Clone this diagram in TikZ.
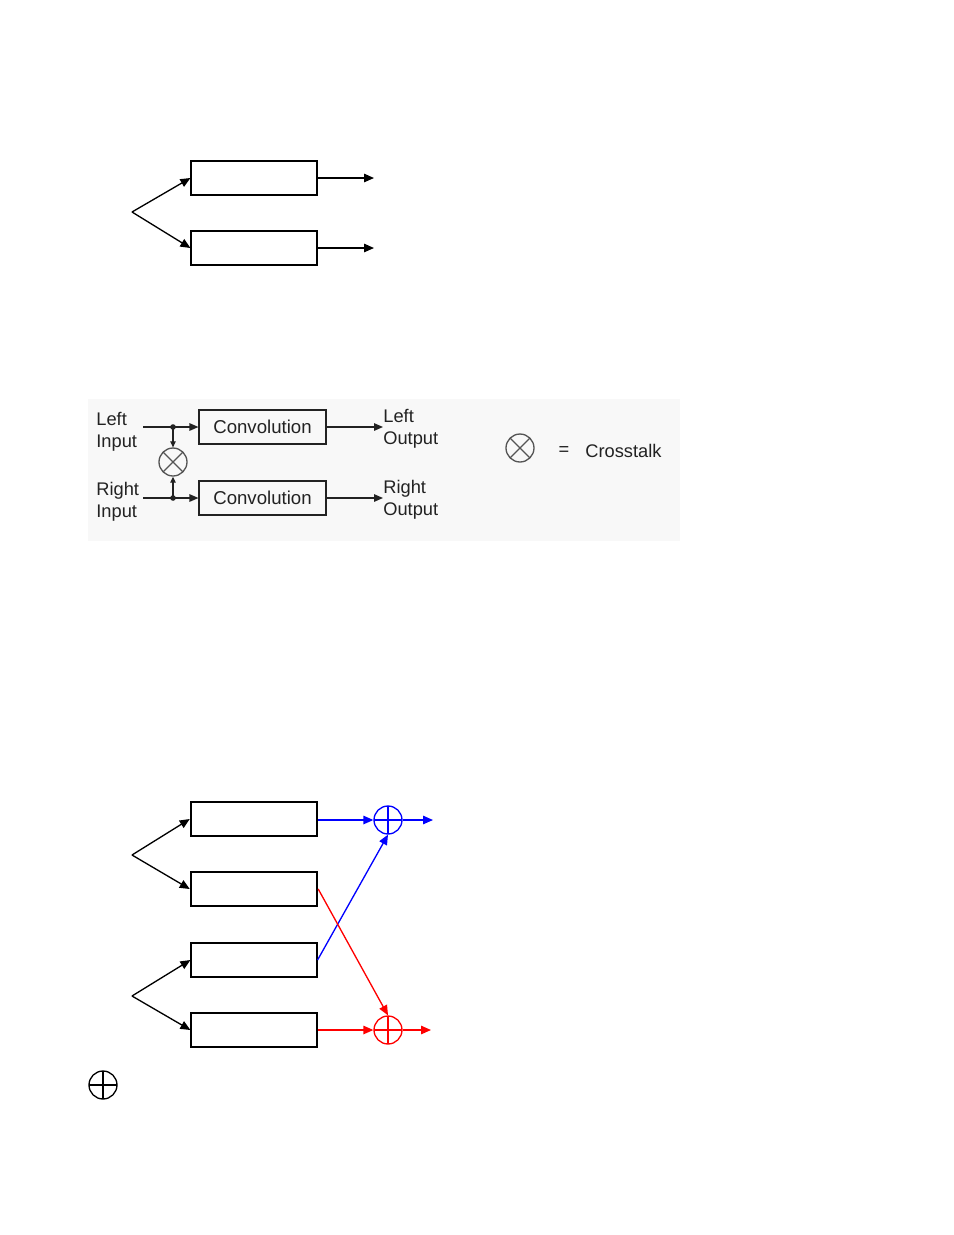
\documentclass[tikz,border=0pt]{standalone}
\usepackage{fontspec}
\setmainfont{Liberation Sans}
\usetikzlibrary{arrows.meta}
\definecolor{XBack}{HTML}{F8F8F8}
\definecolor{XLine}{HTML}{222222}
\definecolor{XGray}{HTML}{555555}
\definecolor{XBlue}{HTML}{0000FF}
\definecolor{XRed}{HTML}{FF0000}
\tikzset{
  blk/.style={draw,rectangle,inner sep=0pt,minimum width=2.52cm,minimum height=0.68cm,line width=.65pt},
  blkthick/.style={blk,line width=1.4pt},
  conv/.style={blk,minimum width=2.54cm,draw=XLine,font=\fontsize{10.6}{12}\selectfont,text=XLine},
  lbl/.style={inner sep=0pt,align=left,font=\fontsize{10.4}{12.4}\selectfont,text=XLine},
  adder/.style={circle,draw,inner sep=0pt,minimum size=0.56cm,line width=.75pt,
    path picture={\draw[line width=.75pt] (path picture bounding box.north) -- (path picture bounding box.south)
      (path picture bounding box.west) -- (path picture bounding box.east);}},
  xtalk/.style={circle,draw=XGray,inner sep=0pt,minimum size=0.56cm,line width=.75pt,
    path picture={\draw[XGray,line width=.75pt]
      ([shift={(45:0.28cm)}]path picture bounding box.center) -- ([shift={(225:0.28cm)}]path picture bounding box.center)
      ([shift={(135:0.28cm)}]path picture bounding box.center) -- ([shift={(315:0.28cm)}]path picture bounding box.center);}},
  sig/.style={line width=.75pt,-{Triangle[length=2mm,width=1.7mm]}},
  tap/.style={line width=.7pt,-{Triangle[length=1.2mm,width=1.1mm]}}
}
\begin{document}
\begin{tikzpicture}[x=0.02cm,y=-0.02cm]
\path[use as bounding box] (0,0) rectangle (954,1235);
% upper sketch
\node[blk] (ta) at (254,178) {};
\node[blk] (tb) at (254,248) {};
\coordinate (tsplit) at (132,212);
\coordinate (taout) at (374,178);
\coordinate (tbout) at (374,248);
\draw[sig] (tsplit) -- (ta.west);
\draw[sig] (tsplit) -- (tb.west);
\draw[sig] (ta.east) -- (taout);
\draw[sig] (tb.east) -- (tbout);
% crosstalk panel
\fill[XBack] (88,399) rectangle (680,541);
\node[conv] (convl) at (262.5,427) {Convolution};
\node[conv] (convr) at (262.5,498) {Convolution};
\node[lbl,anchor=west] (inl) at (96,431.5) {Left\\Input};
\node[lbl,anchor=west] (inr) at (96,502) {Right\\Input};
\node[lbl,anchor=west] (outl) at (383,429) {Left\\Output};
\node[lbl,anchor=west] (outr) at (383,500) {Right\\Output};
\coordinate (inlx) at (143,427);
\coordinate (inrx) at (143,498);
\coordinate (tapl) at (173,427);
\coordinate (tapr) at (173,498);
\coordinate (outlx) at (383,427);
\coordinate (outrx) at (383,498);
\node[xtalk] (mix) at (173,462) {};
\draw[sig,draw=XLine,-{Triangle[length=1.8mm,width=1.5mm]}] (inlx) -- (convl.west);
\draw[sig,draw=XLine,-{Triangle[length=1.8mm,width=1.5mm]}] (inrx) -- (convr.west);
\draw[sig,draw=XLine,-{Triangle[length=1.8mm,width=1.5mm]}] (convl.east) -- (outlx);
\draw[sig,draw=XLine,-{Triangle[length=1.8mm,width=1.5mm]}] (convr.east) -- (outrx);
\fill[XLine] (tapl) circle (2.8);
\fill[XLine] (tapr) circle (2.8);
\draw[tap,draw=XLine] (tapl) -- (mix.north);
\draw[tap,draw=XLine] (tapr) -- (mix.south);
\node[xtalk] (key) at (520,448) {};
\node[lbl] (eq) at (564,451) {=};
\node[lbl,anchor=west] (keytxt) at (585,451) {Crosstalk};
% lower sketch
\node[blkthick] (ba) at (254,819) {};
\node[blkthick] (bb) at (254,889) {};
\node[blk] (bc) at (254,960) {};
\node[blk] (bd) at (254,1030) {};
\coordinate (bsplit1) at (132,855);
\coordinate (bsplit2) at (132,996);
\draw[sig] (bsplit1) -- (ba.west);
\draw[sig] (bsplit1) -- (bb.west);
\draw[sig] (bsplit2) -- (bc.west);
\draw[sig] (bsplit2) -- (bd.west);
\node[adder,draw=XBlue,path picture={\draw[XBlue,line width=.75pt] (path picture bounding box.north) -- (path picture bounding box.south) (path picture bounding box.west) -- (path picture bounding box.east);}] (sumb) at (388,820) {};
\node[adder,draw=XRed,path picture={\draw[XRed,line width=.75pt] (path picture bounding box.north) -- (path picture bounding box.south) (path picture bounding box.west) -- (path picture bounding box.east);}] (sumr) at (388,1030) {};
\coordinate (sumbout) at (433,820);
\coordinate (sumrout) at (431,1030);
\draw[sig,XBlue] (ba.east |- sumb) -- (sumb.west);
\draw[sig,XBlue] (bc.east) -- (sumb.south);
\draw[sig,XBlue] (sumb.east) -- (sumbout);
\draw[sig,XRed] (bb.east) -- (sumr.north);
\draw[sig,XRed] (bd.east) -- (sumr.west);
\draw[sig,XRed] (sumr.east) -- (sumrout);
\node[adder] (keysum) at (103,1085) {};
\end{tikzpicture}
\end{document}
